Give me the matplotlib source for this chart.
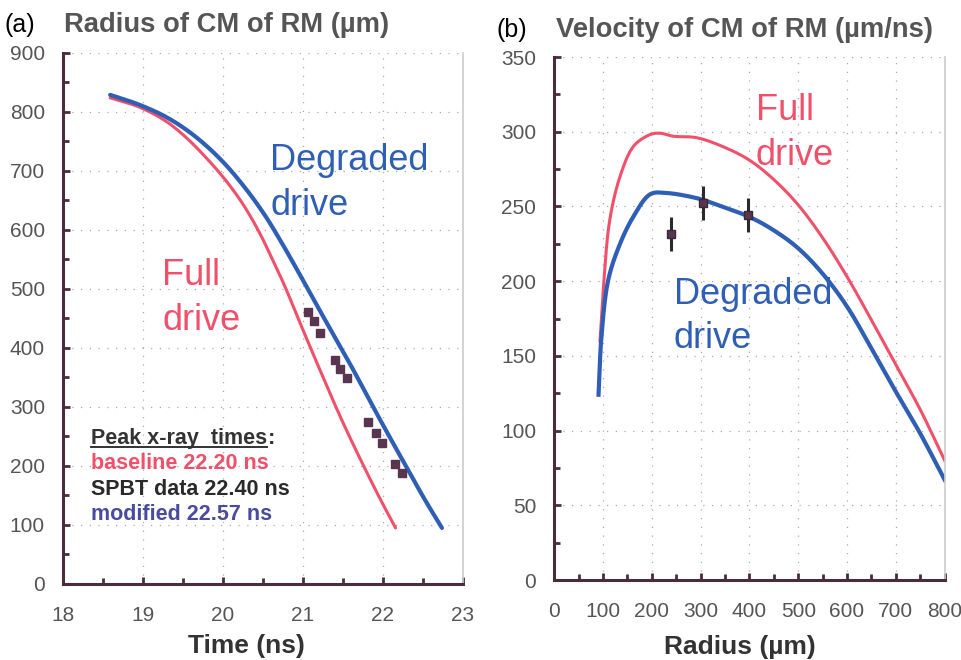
import numpy as np
import matplotlib.pyplot as plt
from matplotlib.ticker import MultipleLocator

plt.rcParams['font.family'] = ['Liberation Sans', 'DejaVu Sans']

# (a) radius of the centre of mass vs time
t_full = [18.59, 18.96, 19.28, 19.53, 19.78, 20.03, 20.24, 20.44, 20.61, 20.78,
          20.96, 21.21, 21.46, 21.71, 21.96, 22.16]
r_full = [824, 808, 785, 758, 724, 685, 646, 600, 553, 503,
          444, 364, 286, 214, 146, 95]
t_degr = [18.59, 18.96, 19.31, 19.65, 19.99, 20.28, 20.53, 20.75, 20.96, 21.21,
          21.59, 21.96, 22.28, 22.53, 22.74]
r_degr = [829, 812, 790, 759, 717, 671, 624, 575, 525, 464,
          373, 280, 202, 142, 95]
t_spbt = [21.06, 21.14, 21.22, 21.4, 21.47, 21.55, 21.82, 21.91, 21.99, 22.15, 22.24]
r_spbt = [461, 446, 425, 380, 364, 349, 275, 256, 239, 203, 188]

# (b) velocity of the centre of mass vs radius
rad_full = [94, 101, 114, 135, 162, 196, 217, 244, 292, 346, 400, 450, 500, 550,
            600, 650, 700, 750, 800]
v_full = [160, 196, 241, 270, 290, 298, 299, 297, 296, 290, 281, 268, 251, 229,
          203, 174, 144, 114, 80]
rad_degr = [91, 97, 111, 135, 162, 196, 230, 299, 326, 400, 450, 500, 550, 600,
            650, 700, 750, 800]
v_degr = [124, 163, 201, 225, 243, 258, 259, 255, 252, 243, 234, 222, 205, 183,
          155, 126, 98, 67]
rad_meas = [239, 305, 397]
v_meas = [231.6, 252.4, 244.3]
v_err = [11.4, 11.4, 11.4]

RED = '#f0506a'
BLUE = '#2f5fb5'
SPINE = '#4b2b3e'
TICK = '#555555'
DATA = '#5a3550'


def curve(x, y, sx, sy, n=25):
    # centripetal Catmull-Rom through the points, scaled so both axes count
    P = np.column_stack([np.asarray(x, float) / sx, np.asarray(y, float) / sy])
    P = np.vstack([2 * P[0] - P[1], P, 2 * P[-1] - P[-2]])
    out = []
    for i in range(1, len(P) - 2):
        p0, p1, p2, p3 = P[i - 1], P[i], P[i + 1], P[i + 2]
        t0 = 0.0
        t1 = t0 + np.linalg.norm(p1 - p0) ** 0.5
        t2 = t1 + np.linalg.norm(p2 - p1) ** 0.5
        t3 = t2 + np.linalg.norm(p3 - p2) ** 0.5
        for t in np.linspace(t1, t2, n, endpoint=False):
            a1 = (t1 - t) / (t1 - t0) * p0 + (t - t0) / (t1 - t0) * p1
            a2 = (t2 - t) / (t2 - t1) * p1 + (t - t1) / (t2 - t1) * p2
            a3 = (t3 - t) / (t3 - t2) * p2 + (t - t2) / (t3 - t2) * p3
            b1 = (t2 - t) / (t2 - t0) * a1 + (t - t0) / (t2 - t0) * a2
            b2 = (t3 - t) / (t3 - t1) * a2 + (t - t1) / (t3 - t1) * a3
            out.append((t2 - t) / (t2 - t1) * b1 + (t - t1) / (t2 - t1) * b2)
    out.append(P[-2])
    out = np.array(out)
    return out[:, 0] * sx, out[:, 1] * sy


def style(ax, major_y, minor_y, minor_x):
    ax.spines['top'].set_visible(False)
    ax.spines['right'].set_color('#cccccc')
    ax.spines['right'].set_linewidth(1.2)
    for side in ('left', 'bottom'):
        ax.spines[side].set_color(SPINE)
        ax.spines[side].set_linewidth(2.2)
    ax.yaxis.set_major_locator(MultipleLocator(major_y))
    ax.yaxis.set_minor_locator(MultipleLocator(minor_y))
    ax.xaxis.set_minor_locator(MultipleLocator(minor_x))
    ax.tick_params(which='both', direction='in', color=SPINE, width=2,
                   labelcolor=TICK, labelsize=15)
    ax.tick_params(which='major', length=5)
    ax.tick_params(which='minor', length=4)
    ax.tick_params(axis='x', pad=16)
    ax.tick_params(axis='y', pad=13)
    ax.grid(True, which='major', linestyle=(0, (1, 6)), color='#aaaaaa', linewidth=0.9)


fig = plt.figure(figsize=(9.62, 6.6), dpi=100)
ax1 = fig.add_axes([0.0655, 0.1152, 0.4155, 0.8045])
ax2 = fig.add_axes([0.576, 0.1212, 0.406, 0.7924])

# panel (a)
xs, ys = curve(t_full, r_full, 5, 900)
ax1.plot(xs, ys, color=RED, lw=2.2, solid_capstyle='round')
xs, ys = curve(t_degr, r_degr, 5, 900)
ax1.plot(xs, ys, color=BLUE, lw=3.0, solid_capstyle='round')
ax1.plot(t_spbt, r_spbt, 's', color=DATA, ms=6, mec=DATA)
ax1.set_xlim(18, 23)
ax1.set_ylim(0, 900)
style(ax1, 100, 50, 0.5)
ax1.set_xlabel('Time (ns)', fontsize=19, fontweight='bold', color='#333333')
ax1.xaxis.set_label_coords(0.46, -0.094, transform=ax1.transAxes)

ax1.text(20.59, 702, 'Degraded', color=BLUE, fontsize=26)
ax1.text(20.59, 625, 'drive', color=BLUE, fontsize=26)
ax1.text(19.24, 507, 'Full', color=RED, fontsize=26)
ax1.text(19.24, 430, 'drive', color=RED, fontsize=26)

head = ax1.text(18.35, 237, 'Peak x-ray  times', fontsize=15.5, fontweight='bold', color='#333333')
ax1.text(18.35, 195, 'baseline 22.20 ns', fontsize=15.5, fontweight='bold', color=RED)
ax1.text(18.35, 151, 'SPBT data 22.40 ns', fontsize=15.5, fontweight='bold', color='#2a2a2a')
ax1.text(18.35, 108, 'modified 22.57 ns', fontsize=15.5, fontweight='bold', color='#4a4a9e')

# underline the heading and put the colon after it
fig.canvas.draw()
bb = head.get_window_extent().transformed(ax1.transData.inverted())
ax1.plot([bb.x0, bb.x1], [bb.y0 + 4, bb.y0 + 4], color='#333333', lw=1.4)
ax1.text(bb.x1 + 0.01, 237, ':', fontsize=15.5, fontweight='bold', color='#333333')

# panel (b)
xs, ys = curve(rad_full, v_full, 800, 350)
ax2.plot(xs, ys, color=RED, lw=2.2)
xs, ys = curve(rad_degr, v_degr, 800, 350)
ax2.plot(xs, ys, color=BLUE, lw=3.0)
ax2.errorbar(rad_meas, v_meas, yerr=v_err, fmt='s', color='#2a2a2a', ms=6,
             mfc=DATA, mec='#3a2a35', elinewidth=2.2, capsize=0)
ax2.set_xlim(0, 800)
ax2.set_ylim(0, 350)
style(ax2, 50, 25, 50)
ax2.xaxis.set_major_locator(MultipleLocator(100))
ax2.set_xlabel('Radius (\u00b5m)', fontsize=19, fontweight='bold', color='#333333')
ax2.xaxis.set_label_coords(0.476, -0.105, transform=ax2.transAxes)

ax2.text(413, 308, 'Full', color=RED, fontsize=26)
ax2.text(413, 278, 'drive', color=RED, fontsize=26)
ax2.text(245, 185, 'Degraded', color=BLUE, fontsize=26)
ax2.text(245, 155, 'drive', color=BLUE, fontsize=26)

fig.text(0.005, 0.962, '(a)', fontsize=18, color='black', va='center')
fig.text(0.067, 0.962, 'Radius of CM of RM (\u00b5m)', fontsize=19.7, fontweight='bold',
         color='#555555', va='center')
fig.text(0.516, 0.955, '(b)', fontsize=18, color='black', va='center')
fig.text(0.578, 0.955, 'Velocity of CM of RM (\u00b5m/ns)', fontsize=19.7, fontweight='bold',
         color='#555555', va='center')

fig.savefig('out.png', dpi=100)
